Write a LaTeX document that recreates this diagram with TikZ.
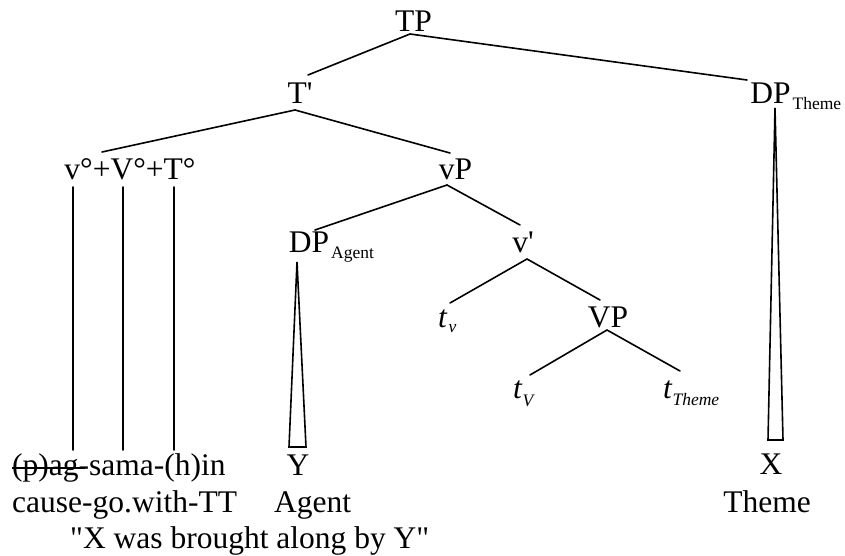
\documentclass[tikz,border=0pt]{standalone}
\usepackage{fontspec}
\setmainfont{Liberation Serif}[Ligatures=TeXOff]
\usetikzlibrary{calc}
\newcommand\subup[2]{\rlap{\kern2pt\smash{\raisebox{-#2pt}{\fontsize{17.5}{18}\selectfont #1}}}}
\newcommand\subit[2]{\smash{\raisebox{-#2pt}{\fontsize{17.5}{18}\selectfont\itshape #1}}}
\begin{document}
\begin{tikzpicture}[x=1pt,y=-1pt,
  lab/.style={inner sep=0pt,anchor=base,font=\fontsize{31.5}{36}\selectfont},
  labw/.style={lab,anchor=base west},
  edge/.style={line width=1.6pt,line cap=round},
  tri/.style={line width=1.6pt,line join=miter}]
\useasboundingbox (0,0) rectangle (845,556);
% nodes
\node[lab] (TP) at (413.5,32) {TP};
\node[lab] (T1) at (300,104) {T'};
\node[lab] (DPT) at (770.5,104) {DP\subup{Theme}{6}};
\node[lab] (V0) at (130,179) {v°+V°+T°};
\node[lab] (vP) at (455.5,179) {vP};
\node[lab] (DPA) at (309,252) {DP\subup{Agent}{6}};
\node[lab] (v1) at (523,252) {v'};
\node[labw] (tv) at (438,327) {\textit{t}\kern1pt\subit{v}{5}};
\node[lab] (VP) at (608,327) {VP};
\node[labw] (tV) at (513,398) {\textit{t}\subit{V}{8}};
\node[labw] (tTh) at (663,398) {\textit{t}\subit{Theme}{7}};
\node[lab] (Y) at (298,475) {Y};
\node[lab] (X) at (771,474) {X};
\node[labw] (w1) at (12,475) {(p)ag-sama-(h)in};
\node[labw] (w2) at (12,512) {cause-go.with-TT};
\node[labw] (ag) at (274,512) {Agent};
\node[lab] (th) at (767,512) {Theme};
\node[labw] (tr) at (70,548) {"X was brought along by Y"};
% connectors
\draw[edge] ($(TP.base)+(-3.5,2)$) -- ($(T1.base)+(8,-29)$);
\draw[edge] ($(TP.base)+(-3.5,2)$) -- ($(DPT.base)+(-23.5,-24)$);
\draw[edge] ($(T1.base)+(-5,6)$) -- ($(V0.base)+(-28,-27)$);
\draw[edge] ($(T1.base)+(-5,6)$) -- ($(vP.base)+(-5.5,-26)$);
\draw[edge] ($(vP.base)+(-8.5,6)$) -- ($(DPA.base)+(6,-22)$);
\draw[edge] ($(vP.base)+(-8.5,6)$) -- ($(v1.base)+(-3,-27)$);
\draw[edge] ($(v1.base)+(4,7)$) -- ($(tv.base west)+(12,-24)$);
\draw[edge] ($(v1.base)+(4,7)$) -- ($(VP.base)+(-8,-27)$);
\draw[edge] ($(VP.base)+(-1,3)$) -- ($(tV.base west)+(17,-23)$);
\draw[edge] ($(VP.base)+(-1,3)$) -- ($(tTh.base west)+(17,-27)$);
% head movement lines
\draw[edge] ($(V0.base)+(-57,8)$) -- ($(w1.base west)+(61,-25)$);
\draw[edge] ($(V0.base)+(-7,8)$) -- ($(w1.base west)+(111,-25)$);
\draw[edge] ($(V0.base)+(44,8)$) -- ($(w1.base west)+(162,-25)$);
% triangles
\draw[tri] ($(DPA.base)+(-12,10)$) -- ($(Y.base)+(-9,-28)$) -- ($(Y.base)+(8,-28)$) -- cycle;
\draw[tri] ($(DPT.base)+(4.5,4)$) -- ($(X.base)+(-3,-34)$) -- ($(X.base)+(12,-34)$) -- cycle;
% strike-through
\draw[line width=1.4pt] ($(w1.base west)+(0,-7)$) -- ($(w1.base west)+(73,-7)$);
\end{tikzpicture}
\end{document}
